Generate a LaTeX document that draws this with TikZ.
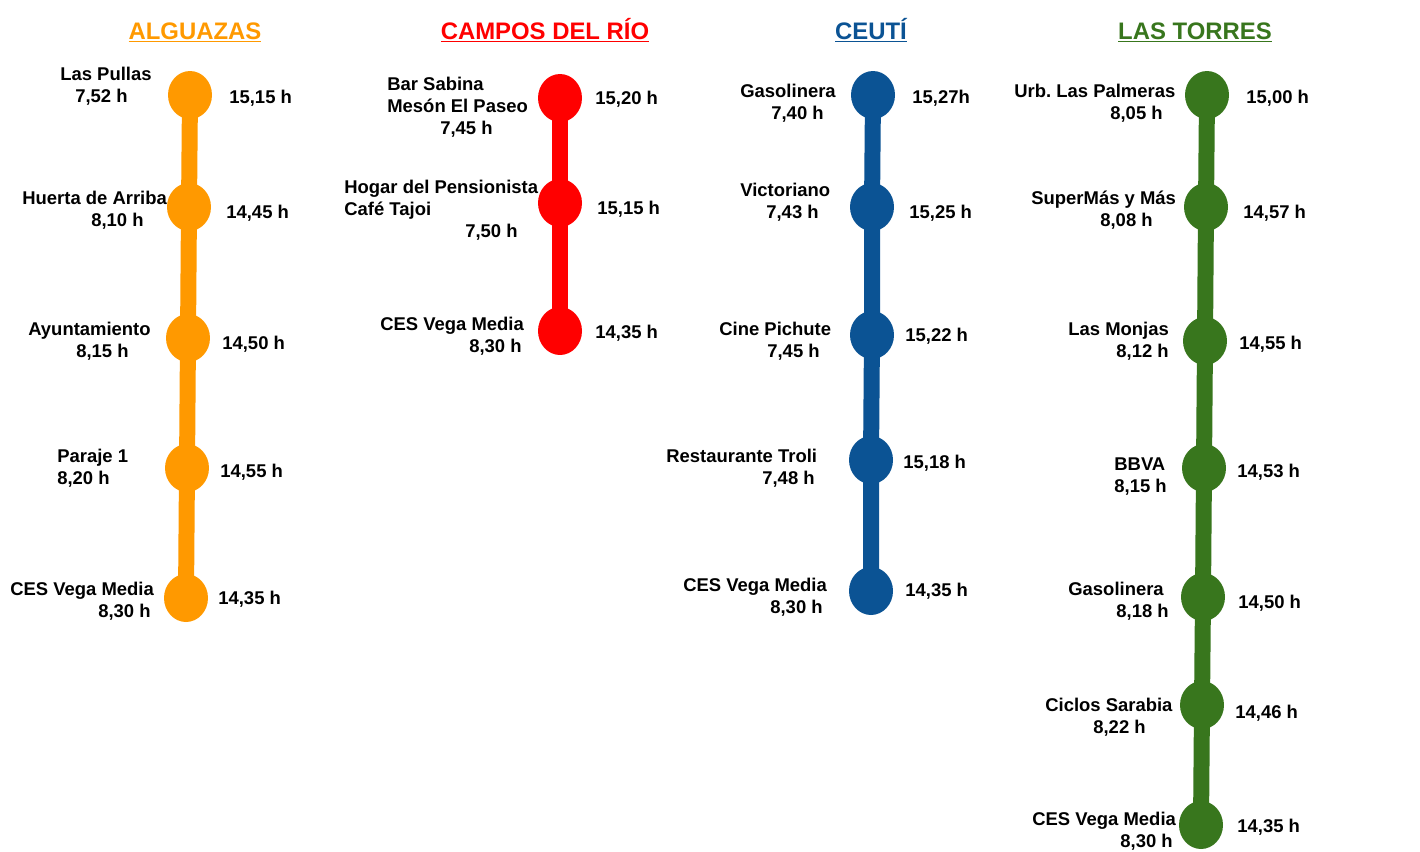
\documentclass[tikz,border=0pt]{standalone}
\usepackage{fontspec}
\setmainfont{Liberation Sans}
\usetikzlibrary{shapes.geometric,backgrounds}
\definecolor{alguazas}{HTML}{FF9900}
\definecolor{campos}{HTML}{FF0000}
\definecolor{ceuti}{HTML}{0B5394}
\definecolor{torres}{HTML}{38761D}
\newdimen\pxu \pxu=0.02cm
\newcommand{\ind}[1]{\hspace*{#1\pxu}}
\frenchspacing

\begin{document}
\begin{tikzpicture}[x=0.02cm, y=-0.02cm,
    stopdot/.style={ellipse, fill=#1, minimum width=0.88cm, minimum height=0.96cm, inner sep=0pt},
    route/.style={draw=#1, line width=9.1pt},
    townname/.style={anchor=base, inner sep=0pt, text=#1, font=\bfseries\fontsize{13.6pt}{16pt}\selectfont},
    place/.style={anchor=base west, align=left, inner sep=0pt, font=\bfseries\fontsize{10.5pt}{12.5pt}\selectfont},
    hour/.style={anchor=base west, inner sep=0pt, font=\bfseries\fontsize{10.5pt}{12.5pt}\selectfont}]
    \useasboundingbox (0,0) rectangle (1420,852);

    % Titles
    \node[townname=alguazas] (talg) at (195,39) {\underline{ALGUAZAS}};
    \node[townname=campos] (tcam) at (545,39) {\underline{CAMPOS DEL RÍO}};
    \node[townname=ceuti] (tceu) at (871,39) {\underline{CEUTÍ}};
    \node[townname=torres] (ttor) at (1195,39) {\underline{LAS TORRES}};

    % Alguazas
    \node[stopdot=alguazas] (a1) at (190,95) {};
    \node[stopdot=alguazas] (a2) at (189,207) {};
    \node[stopdot=alguazas] (a3) at (188,338) {};
    \node[stopdot=alguazas] (a4) at (187,468) {};
    \node[stopdot=alguazas] (a5) at (186,598) {};
    \node[place] (a1l) at (60,102) {Las Pullas\\\ind{15}7,52 h};
    \node[place] (a2l) at (22,226) {Huerta de Arriba\\\ind{69}8,10 h};
    \node[place] (a3l) at (28,357) {Ayuntamiento\\\ind{48}8,15 h};
    \node[place] (a4l) at (57,484) {Paraje 1\\8,20 h};
    \node[place] (a5l) at (10,617) {CES Vega Media\\\ind{88}8,30 h};
    \node[hour] (a1r) at (229,103) {15,15 h};
    \node[hour] (a2r) at (226,218) {14,45 h};
    \node[hour] (a3r) at (222,349) {14,50 h};
    \node[hour] (a4r) at (220,477) {14,55 h};
    \node[hour] (a5r) at (218,604) {14,35 h};

    % Campos del Rio
    \node[stopdot=campos] (c1) at (560,98) {};
    \node[stopdot=campos] (c2) at (560,203) {};
    \node[stopdot=campos] (c3) at (560,331) {};
    \node[place] (c1l) at (387,134) {Bar Sabina\\Mesón El Paseo\\\ind{53}7,45 h};
    \node[place] (c2l) at (344,237) {Hogar del Pensionista\\Café Tajoi\\\ind{121}7,50 h};
    \node[place] (c3l) at (380,352) {CES Vega Media\\\ind{89}8,30 h};
    \node[hour] (c1r) at (595,104) {15,20 h};
    \node[hour] (c2r) at (597,214) {15,15 h};
    \node[hour] (c3r) at (595,338) {14,35 h};

    % Ceuti
    \node[stopdot=ceuti] (e1) at (873,95) {};
    \node[stopdot=ceuti] (e2) at (872,207) {};
    \node[stopdot=ceuti] (e3) at (872,335) {};
    \node[stopdot=ceuti] (e4) at (871,460) {};
    \node[stopdot=ceuti] (e5) at (871,591) {};
    \node[place] (e1l) at (740,119) {Gasolinera\\\ind{31}7,40 h};
    \node[place] (e2l) at (740,218) {Victoriano\\\ind{26}7,43 h};
    \node[place] (e3l) at (719,357) {Cine Pichute\\\ind{48}7,45 h};
    \node[place] (e4l) at (666,484) {Restaurante Troli\\\ind{96}7,48 h};
    \node[place] (e5l) at (683,613) {CES Vega Media\\\ind{87}8,30 h};
    \node[hour] (e1r) at (912,103) {15,27h};
    \node[hour] (e2r) at (909,218) {15,25 h};
    \node[hour] (e3r) at (905,341) {15,22 h};
    \node[hour] (e4r) at (903,468) {15,18 h};
    \node[hour] (e5r) at (905,596) {14,35 h};

    % Las Torres
    \node[stopdot=torres] (t1) at (1207,95) {};
    \node[stopdot=torres] (t2) at (1206,207) {};
    \node[stopdot=torres] (t3) at (1205,341) {};
    \node[stopdot=torres] (t4) at (1204,468) {};
    \node[stopdot=torres] (t5) at (1203,597) {};
    \node[stopdot=torres] (t6) at (1202,705) {};
    \node[stopdot=torres] (t7) at (1201,825) {};
    \node[place] (t1l) at (1014,119) {Urb. Las Palmeras\\\ind{96}8,05 h};
    \node[place] (t2l) at (1031,226) {SuperMás y Más\\\ind{69}8,08 h};
    \node[place] (t3l) at (1068,357) {Las Monjas\\\ind{48}8,12 h};
    \node[place] (t4l) at (1114,492) {BBVA\\8,15 h};
    \node[place] (t5l) at (1068,617) {Gasolinera\\\ind{48}8,18 h};
    \node[place] (t6l) at (1045,733) {Ciclos Sarabia\\\ind{48}8,22 h};
    \node[place] (t7l) at (1032,847) {CES Vega Media\\\ind{88}8,30 h};
    \node[hour] (t1r) at (1246,103) {15,00 h};
    \node[hour] (t2r) at (1243,218) {14,57 h};
    \node[hour] (t3r) at (1239,349) {14,55 h};
    \node[hour] (t4r) at (1237,477) {14,53 h};
    \node[hour] (t5r) at (1238,608) {14,50 h};
    \node[hour] (t6r) at (1235,718) {14,46 h};
    \node[hour] (t7r) at (1237,832) {14,35 h};

    % Routes
    \begin{scope}[on background layer]
        \draw[route=alguazas] (a1.center) -- (a2.center) -- (a3.center) -- (a4.center) -- (a5.center);
        \draw[route=campos] (c1.center) -- (c2.center) -- (c3.center);
        \draw[route=ceuti] (e1.center) -- (e2.center) -- (e3.center) -- (e4.center) -- (e5.center);
        \draw[route=torres] (t1.center) -- (t2.center) -- (t3.center) -- (t4.center) -- (t5.center) -- (t6.center) -- (t7.center);
    \end{scope}
\end{tikzpicture}
\end{document}
